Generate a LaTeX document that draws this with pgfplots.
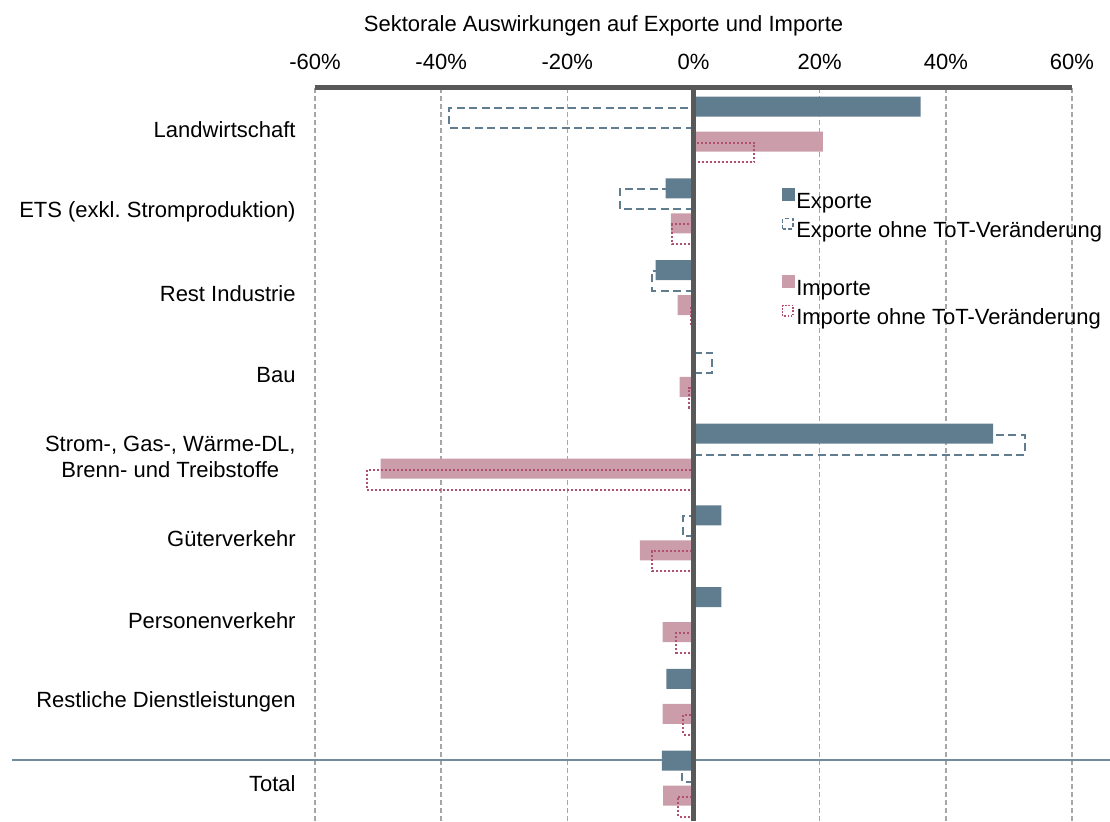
\documentclass[border=0pt]{standalone}
\usepackage{pgfplots}
\pgfplotsset{compat=1.18}
\usepackage{pgfplotstable}
\usepackage{fontspec}
\setmainfont{Liberation Sans}
\definecolor{expcol}{RGB}{95,125,142}
\definecolor{impcol}{RGB}{203,157,170}
\definecolor{dotcol}{RGB}{176,80,112}
\definecolor{gridcol}{RGB}{166,166,166}
\definecolor{axiscol}{RGB}{89,89,89}
\definecolor{sepcol}{RGB}{112,140,156}

% cat: 0 = Landwirtschaft (top) ... 8 = Total (bottom)
\pgfplotstableread{
cat E Eo I Io
0 36.0 -38.8 20.5 9.6
1 -4.4 -11.7 -3.6 -3.4
2 -6.0 -6.5 -2.5 -0.4
3 0.0 3.0 -2.2 -0.7
4 47.5 52.5 -49.6 -51.7
5 4.4 -1.7 -8.5 -6.6
6 4.4 0.0 -4.9 -2.7
7 -4.3 0.0 -4.9 -1.6
8 -5.0 -1.9 -4.8 -2.5
}\data

\begin{document}
\frenchspacing
\fontsize{11}{13.2}\selectfont
\begin{tikzpicture}[font=\fontsize{11}{13.2}\selectfont]
\begin{axis}[
  at={(0pt,0pt)}, anchor=south west,
  scale only axis, width=378.5pt, height=366.5pt,
  xmin=-60, xmax=60, ymin=-8.452, ymax=0.514,
  xtick={-60,-40,...,60},
  xticklabels={-60\%,-40\%,-20\%,0\%,20\%,40\%,60\%},
  xticklabel pos=right,
  xticklabel style={anchor=base, yshift=9pt, inner sep=0pt},
  ytick={-8,...,0},
  yticklabels={Total,Restliche Dienstleistungen,Personenverkehr,Güterverkehr,{Strom-, Gas-, Wärme-DL,\\Brenn- und Treibstoffe},Bau,Rest Industrie,{ETS (exkl.\ Stromproduktion)},Landwirtschaft},
  yticklabel style={anchor=east, align=center, inner sep=0pt, xshift=-9.5pt},
  axis line style={draw=none},
  major tick length=0pt, tick style={draw=none},
  xmajorgrids,
  grid style={gridcol, line width=0.75pt, dash pattern=on 2.5pt off 1.5pt},
  clip=false,
  legend cell align=left,
  legend style={at={(axis cs:13.95,-0.7095)}, anchor=north west, draw=none, fill=none,
    inner sep=0pt, outer sep=0pt, row sep=0pt,
    nodes={inner sep=0pt, text height=10pt, text depth=4.5pt}},
]
% separator line above Total
\addplot[forget plot, sepcol, line width=1pt] coordinates {(-108.1,-7.7) (66.2,-7.7)};

\addplot[forget plot, xbar, bar width=0.2446, bar shift=0pt, draw=expcol, fill=none, line width=1pt, dash pattern=on 4pt off 2.2pt]
  table[x=Eo, y expr=-\thisrow{cat}+0.153] {\data};
\addplot[forget plot, xbar, bar width=0.2446, bar shift=0pt, fill=expcol, draw=none]
  table[x=E, y expr=-\thisrow{cat}+0.2875] {\data};
\addplot[forget plot, xbar, bar width=0.2446, bar shift=0pt, fill=impcol, draw=none]
  table[x=I, y expr=-\thisrow{cat}-0.141] {\data};
\addplot[forget plot, xbar, bar width=0.2446, bar shift=0pt, draw=dotcol, fill=none, line width=1pt, dash pattern=on 1pt off 1pt]
  table[x=Io, y expr=-\thisrow{cat}-0.275] {\data};

% zero line and top line
\addplot[forget plot, axiscol, line width=2.5pt] coordinates {(0,-8.452) (0,0.514)};
\addplot[forget plot, axiscol, line width=2.5pt] coordinates {(-60,0.514) (60,0.514)};

\node[anchor=base] at (axis cs:-14.26,1.199) {Sektorale Auswirkungen auf Exporte und Importe};

\addlegendimage{legend image code/.code={\fill[expcol] (0pt,0.9pt) rectangle (6pt,6.9pt); \path (7pt,0pt);}}
\addlegendentry{Exporte}
\addlegendimage{legend image code/.code={\draw[expcol, line width=0.75pt, dash pattern=on 2pt off 1.2pt] (0.4pt,1.3pt) rectangle (5.6pt,6.5pt); \path (7pt,0pt);}}
\addlegendentry{Exporte ohne ToT-Veränderung}
\addlegendimage{empty legend}
\addlegendentry{}
\addlegendimage{legend image code/.code={\fill[impcol] (0pt,0.9pt) rectangle (6pt,6.9pt); \path (7pt,0pt);}}
\addlegendentry{Importe}
\addlegendimage{legend image code/.code={\draw[dotcol, line width=0.75pt, dash pattern=on 0.8pt off 0.8pt] (0.4pt,1.3pt) rectangle (5.6pt,6.5pt); \path (7pt,0pt);}}
\addlegendentry{Importe ohne ToT-Veränderung}
\end{axis}
\pgfresetboundingbox
\path[use as bounding box] (-157.5pt,0pt) rectangle (397.5pt,410.5pt);
\end{tikzpicture}
\end{document}
